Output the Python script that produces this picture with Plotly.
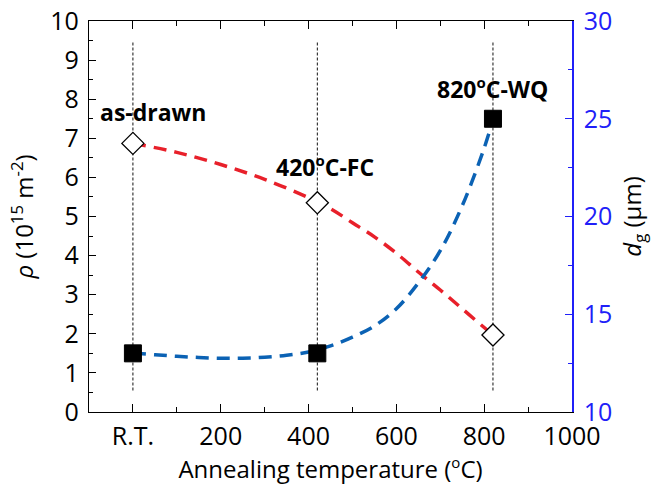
import plotly.graph_objects as go

# ---------------- data ----------------
temps = [0, 420, 820]
rho = [6.87, 5.35, 1.97]          # dislocation density, 10^15 m^-2
dg = [13.0, 13.0, 25.0]           # grain size, um
state_labels = ["as-drawn", "420<sup>o</sup>C-FC", "820<sup>o</sup>C-WQ"]

x_tick_vals = [0, 200, 400, 600, 800, 1000]
x_tick_text = ["R.T.", "200", "400", "600", "800", "1000"]

# guide curves
rho_fit_x = [0, 100, 200, 300, 400, 450, 500, 550, 600, 650, 700, 750, 800, 820]
rho_fit = [6.87, 6.64, 6.33, 5.95, 5.48, 5.20, 4.84, 4.48, 4.06, 3.58, 3.12, 2.64, 2.16, 1.97]
dg_fit_x = [0, 50, 100, 150, 200, 250, 300, 350, 400, 450, 500, 550, 600, 650, 700, 750, 800, 820]
dg_fit = [13.02, 12.93, 12.85, 12.79, 12.75, 12.75, 12.80, 12.90, 13.07, 13.38, 13.83,
          14.40, 15.28, 16.60, 18.25, 20.55, 23.50, 24.95]

# ---------------- style ----------------
FONT = "Open Sans"
RED = "#e8202a"
BLUE_CURVE = "#0b62b4"
BLUE_AXIS = "#2020f8"
DASH = "13px,8px"

fig = go.Figure()

fig.add_trace(go.Scatter(x=rho_fit_x, y=rho_fit, mode="lines", yaxis="y",
                         line=dict(color=RED, width=3.5, dash=DASH, shape="spline"),
                         hoverinfo="skip", showlegend=False))
fig.add_trace(go.Scatter(x=temps, y=rho, mode="markers", yaxis="y",
                         marker=dict(symbol="diamond", size=17, color="white",
                                     line=dict(color="black", width=1.3)),
                         showlegend=False))
fig.add_trace(go.Scatter(x=dg_fit_x, y=dg_fit, mode="lines", yaxis="y2",
                         line=dict(color=BLUE_CURVE, width=3.5, dash=DASH, shape="spline"),
                         hoverinfo="skip", showlegend=False))
fig.add_trace(go.Scatter(x=temps, y=dg, mode="markers", yaxis="y2",
                         marker=dict(symbol="square", size=17, color="black",
                                     line=dict(color="black", width=1)),
                         showlegend=False))

# vertical guides at each state
for t in temps:
    fig.add_shape(type="line", x0=t, x1=t, y0=0.55, y1=9.45, xref="x", yref="y",
                  line=dict(color="#111111", width=1, dash="3px,2px"), layer="below")

SUP_O = "<sup><span style='font-size:15px'>o</span></sup>"
state_labels = [s.replace("<sup>o</sup>", SUP_O) for s in state_labels]

# state labels
label_shift = [(20, 31, "y"), (8, 36, "y"), (0, 30, "y2")]
anchor_vals = [rho[0], rho[1], dg[2]]
for i, lab in enumerate(state_labels):
    xs, ys, yr = label_shift[i]
    fig.add_annotation(x=temps[i], y=anchor_vals[i], xref="x", yref=yr,
                       text="<b>" + lab + "</b>", showarrow=False,
                       xshift=xs, yshift=ys,
                       font=dict(family=FONT, size=23, color="black"))

fig.update_layout(
    width=656, height=496,
    margin=dict(l=89, r=84, t=21, b=84, autoexpand=False),
    paper_bgcolor="white", plot_bgcolor="white",
    font=dict(family=FONT, color="black"),
    xaxis=dict(range=[-100, 1000], tickvals=x_tick_vals, ticktext=x_tick_text,
               automargin=False,
               ticks="inside", ticklen=8, tickwidth=1.3, tickcolor="black",
               showline=True, linecolor="black", linewidth=1.3, mirror="ticks",
               showgrid=False, zeroline=False,
               minor=dict(tickvals=[100, 300, 500, 700, 900], ticks="inside",
                          ticklen=4.5, tickwidth=1.3, tickcolor="black"),
               tickfont=dict(family=FONT, size=25, color="black"),
               ticklabelstandoff=2,
               title=dict(text="Annealing temperature (" + SUP_O + "C)",
                          font=dict(family=FONT, size=24), standoff=10)),
    yaxis=dict(range=[0, 10], dtick=1, tick0=0, automargin=False,
               ticks="inside", ticklen=7, tickwidth=1.3, tickcolor="black",
               showline=True, linecolor="black", linewidth=1.3,
               showgrid=False, zeroline=False,
               minor=dict(dtick=0.5, ticks="inside", ticklen=4, tickwidth=1.3,
                          tickcolor="black"),
               tickfont=dict(family=FONT, size=25, color="black"),
               ticklabelstandoff=4,
               title=dict(text="<i>ρ</i> (10<sup>15</sup> m<sup>-2</sup>)",
                          font=dict(family=FONT, size=24), standoff=9)),
    yaxis2=dict(range=[10, 30], dtick=5, tick0=10, overlaying="y", side="right",
                automargin=False,
                ticks="inside", ticklen=7, tickwidth=1.3, tickcolor=BLUE_AXIS,
                showline=True, linecolor=BLUE_AXIS, linewidth=1.5,
                showgrid=False, zeroline=False,
                minor=dict(dtick=2.5, ticks="inside", ticklen=4, tickwidth=1.3,
                           tickcolor=BLUE_AXIS),
                tickfont=dict(family=FONT, size=25, color=BLUE_AXIS),
                ticklabelstandoff=5,
                title=dict(text="<i>d</i><sub>g</sub> (μm)",
                           font=dict(family=FONT, size=24, color="black"), standoff=13)),
)

fig.write_html("out.html",
               config={"displayModeBar": False},
               post_script="document.body.style.margin='0px';"
                           "document.documentElement.style.overflow='hidden';")
